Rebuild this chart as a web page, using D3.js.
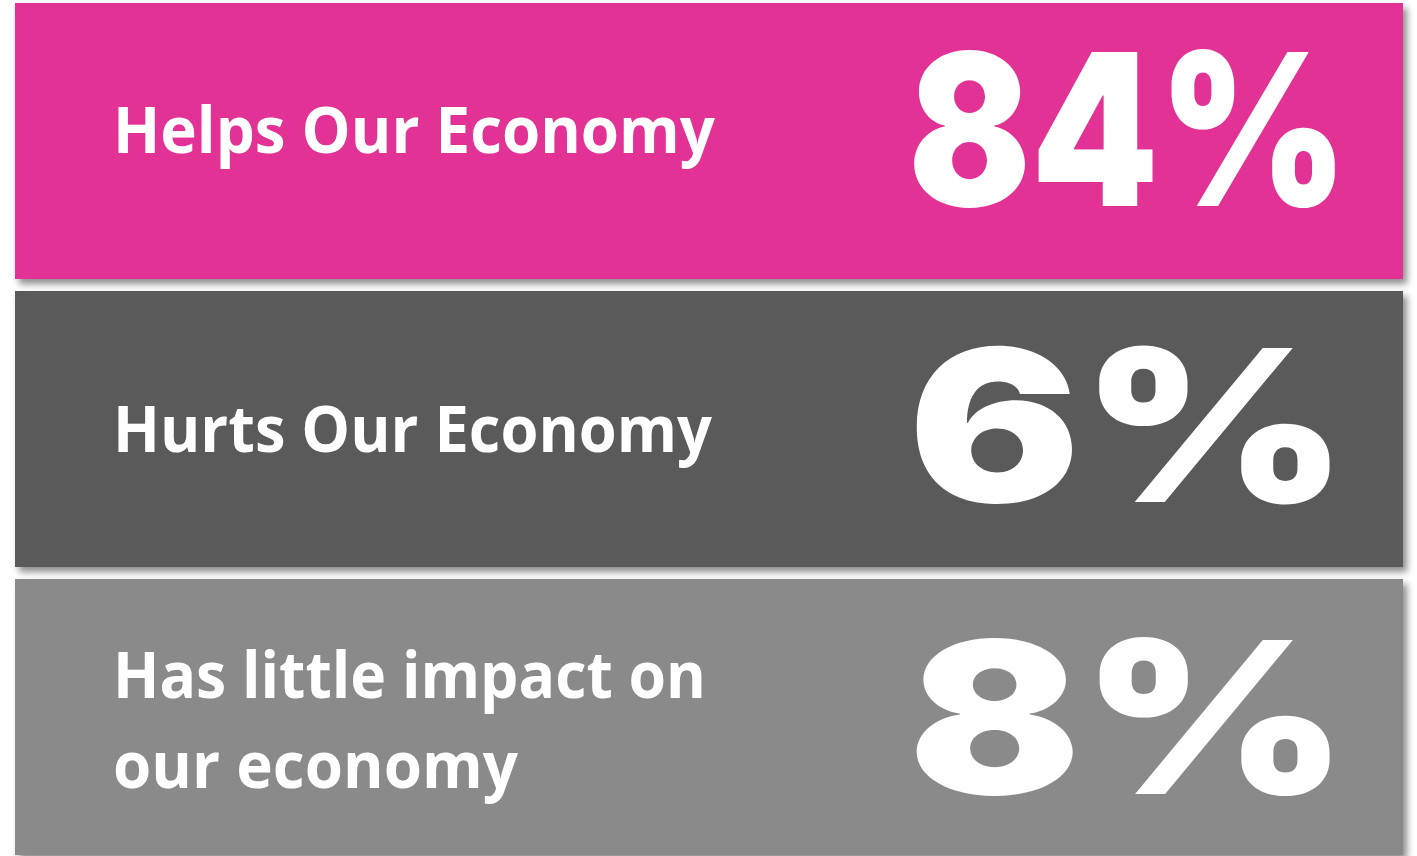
<!DOCTYPE html>
<meta charset="utf-8">
<head>
  <style>
    body { margin: 0; background: #fff; }
    .label { font-family: "Open Sans", sans-serif; font-weight: 700; fill: #fff; }
    .value { font-family: Inter, "DejaVu Sans", sans-serif; font-weight: 900; fill: #fff; }
  </style>
</head>
<body>
  <script src="https://cdn.jsdelivr.net/npm/d3@7"></script>
  <script>
    // data
    var labels = [["Helps Our Economy"], ["Hurts Our Economy"], ["Has little impact on", "our economy"]];
    var values = [84, 6, 8];
    var colors = ["#e33096", "#5a5a5a", "#8a8a8a"];

    var width = 1417, height = 856;

    var svg = d3.select("body").append("svg")
      .attr("width", width)
      .attr("height", height);

    var defs = svg.append("defs");
    defs.append("filter")
      .attr("id", "shadow")
      .attr("x", "-5%").attr("y", "-10%")
      .attr("width", "115%").attr("height", "130%")
      .append("feDropShadow")
      .attr("dx", 4).attr("dy", 5)
      .attr("stdDeviation", 3.5)
      .attr("flood-color", "#000")
      .attr("flood-opacity", 0.45);

    var y = d3.scaleBand()
      .domain(d3.range(values.length))
      .range([3, 855])
      .paddingInner(12 / 288);

    var x0 = 15, x1 = 1403;

    var labelCap = 46, labelSize = labelCap / 0.714, lineGap = 90;
    var labelNudge = [-11, 0, 3]; //small vertical shifts seen in the picture
    var valueNudge = [-8, 0, 4];
    var valueCap = 154, valueSize = valueCap / 0.727;
    var valueRight = 1348, valueWidth = 440;

    var row = svg.selectAll("g.row")
      .data(values)
      .enter().append("g")
      .attr("class", "row")
      .attr("transform", function (d, i) { return "translate(0," + y(i) + ")"; });

    row.append("rect")
      .attr("x", x0)
      .attr("width", x1 - x0)
      .attr("height", y.bandwidth())
      .attr("fill", function (d, i) { return colors[i]; })
      .attr("filter", "url(#shadow)");

    // labels, one text per line, squeezed to the width they take in the picture
    var labelWidths = [[602], [599], [593, 405]];
    row.each(function (d, i) {
      var lines = labels[i];
      var mid = y.bandwidth() / 2 + labelNudge[i];
      var first = mid - (lines.length - 1) * lineGap / 2 + labelCap / 2;
      d3.select(this).selectAll("text.label")
        .data(lines)
        .enter().append("text")
        .attr("class", "label")
        .attr("x", 113)
        .attr("y", function (l, j) { return first + j * lineGap; })
        .style("font-size", labelSize + "px")
        .attr("textLength", function (l, j) { return labelWidths[i][j]; })
        .attr("lengthAdjust", "spacingAndGlyphs")
        .text(function (l) { return l; });
    });

    row.append("text")
      .attr("class", "value")
      .attr("x", valueRight)
      .attr("y", function (d, i) { return y.bandwidth() / 2 + valueCap / 2 - 4 + valueNudge[i]; })
      .attr("text-anchor", "end")
      .style("font-size", valueSize + "px")
      .attr("textLength", valueWidth)
      .attr("lengthAdjust", "spacingAndGlyphs")
      .text(function (d) { return d + "%"; });
  </script>
</body>
